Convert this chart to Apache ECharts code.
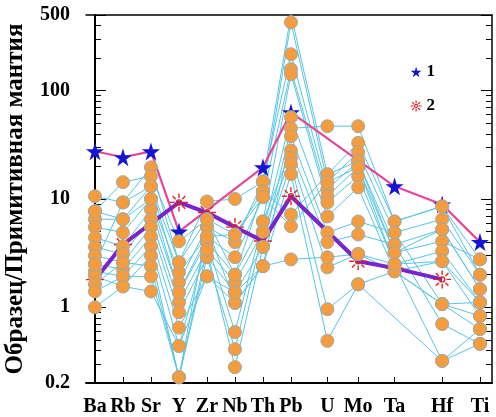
<!DOCTYPE html>
<html><head><meta charset="utf-8">
<script src="https://cdn.jsdelivr.net/npm/echarts@6/dist/echarts.min.js"></script>
<style>html,body{margin:0;padding:0;background:#fff}#c{width:496px;height:417px}</style>
</head><body><div id="c"></div>
<script>
// Elements (categories) and their position along the diagram axis
const elements   = ['Ba','Rb','Sr','Y','Zr','Nb','Th','Pb','U','Mo','Ta','Hf','Ti'];
const elementPos = [0, 1, 2, 3, 4, 5, 6, 7, 8.3, 9.4, 10.7, 12.4, 13.75];

// Y axis tick labels (log scale)
const yMajorTicks = [0.2, 1, 10, 100, 500];
const yMinorTicks = [0.3,0.4,0.5,0.6,0.7,0.8,0.9, 2,3,4,5,6,7,8,9, 20,30,40,50,60,70,80,90, 200,300,400];

// Reference patterns
const ref1 = [27.6, 24.3, 27.5, 5.0, null, null, 19.6, 63, null, null, 13.1, 8.9, 4.0];
const ref2 = [1.8, 3.8, null, 9.3, 7.5, 5.5, 4.1, 10.6, null, 2.66, 2.3, 1.81, null];

// Samples (order: Ba Rb Sr Y Zr Nb Th Pb U Mo Ta Hf Ti)
const s01 = [10.6, 9.3, 19.6, 2.6, 9.5, 10, 14.5, 507, 16.9, 33, 6.2, 8.55, 2.77];
const s02 = [7.7, 14.3, 16.2, 4.07, 6.5, 4.7, 11.8, 428, 14.3, 27, 4.9, 6.5, 2.0];
const s03 = [6.5, 6.5, 13.1, 1.7, 5.5, 4.0, 14.5, 217, 12.3, 22.3, 3.8, 5.25, 1.47];
const s04 = [5.5, 4.9, 10, 2.1, 4.5, 2.9, 10.4, 158, 10.6, 19.6, 3.2, 4.07, 2.77];
const s05 = [4.4, 3.66, 8, 1.37, 4.0, 2.0, 6.2, 142, 9.3, 16.2, 2.5, 3.3, 1.11];
const s06 = [3.6, 3.1, 6.5, 1.11, 3.4, 1.7, 5.0, 57, 6.9, 12.8, 2.15, 2.66, 0.83];
const s07 = [3.0, 2.6, 5.5, 0.9, 2.9, 1.37, 3.6, 45, 47, 47, 6.2, 8.55, 2.0];
const s08 = [2.5, 2.24, 4.5, 0.65, 1.93, 1.1, 2.4, 38, 4.9, 6.2, 4.9, 1.07, 0.63];
const s09 = [2.15, 1.93, 3.66, 0.44, 4.0, 0.59, 6.2, 28, 4.0, 4.7, 3.8, 0.70, 0.46];
const s10 = [1.93, 1.56, 3.0, 0.226, 2.9, 0.41, 5.0, 24, 2.34, 3.1, 2.5, 0.32, 0.46];
const s11 = [1.63, 2.6, 2.4, 0.226, 3.4, 0.28, 3.6, 21, 0.96, 1.63, 2.15, 1.07, 1.11];
const s12 = [1.4, 1.93, 1.93, 0.226, 5.5, 1.1, 2.4, 17, 0.49, 1.63, null, 0.32, 0.63];
const s13 = [1.0, 1.56, 1.4, 0.44, 1.93, 1.37, 2.4, 2.77, 2.9, 3.1, 2.15, 1.07, 0.83];
const s14 = [2.5, 9.3, 13.1, 2.6, 6.5, 2.0, 11.8, 7.2, 16.9, 22.3, 3.2, 5.25, 1.47];
const s15 = [7.7, 6.5, 10, 1.37, 4.5, 4.7, 10.4, 5.6, 14.3, 19.6, 2.5, 2.66, 1.11];
const samples = [s01,s02,s03,s04,s05,s06,s07,s08,s09,s10,s11,s12,s13,s14,s15];

const STAR = 'path://M50 0L61 35L98 35L68 57L79 91L50 70L21 91L32 57L2 35L39 35Z';
const SUN = 'path://M36 50A14 14 0 1 1 64 50A14 14 0 1 1 36 50Z' +
  'M50 0L50 26M50 74L50 100M0 50L26 50M74 50L100 50' +
  'M15 15L32 32M68 68L85 85M85 15L68 32M32 68L15 85';

const FONT = 'Liberation Serif';
const toPairs = arr => arr.map((v, i) => [elementPos[i], v]);

const series = [];
samples.forEach((s, k) => {
  series.push({
    name: 'sample' + (k + 1), type: 'line', data: toPairs(s), connectNulls: true,
    symbol: 'none', lineStyle: {color: '#55c6e8', width: 1}, z: 1, silent: true
  });
});
series.push({
  name: '1', type: 'line', data: toPairs(ref1), connectNulls: true,
  symbol: STAR, symbolSize: 18, showAllSymbol: true,
  itemStyle: {color: '#1414d2'}, lineStyle: {color: '#e8449c', width: 2.2}, z: 3
});
series.push({
  name: '2', type: 'line', data: toPairs(ref2), connectNulls: true,
  symbol: SUN, symbolSize: 18, showAllSymbol: true,
  itemStyle: {color: 'rgba(0,0,0,0)', borderColor: '#e02424', borderWidth: 1.4},
  lineStyle: {color: '#7a22cc', width: 4}, z: 3
});
const dots = [];
samples.forEach(s => s.forEach((v, i) => { if (v != null) dots.push([elementPos[i], v]); }));
series.push({
  name: 'dots', type: 'scatter', data: dots, symbolSize: 13,
  itemStyle: {color: '#f59c3e', borderColor: '#9eaaa8', borderWidth: 1, opacity: 1}, z: 5
});

const yBase = {type: 'log', logBase: 10, min: 0.2, max: 500, splitLine: {show: false}};
const chart = echarts.init(document.getElementById('c'));
chart.setOption({
  animation: false,
  backgroundColor: '#fff',
  grid: {left: 86, right: 4, top: 15, bottom: 34, containLabel: false, outerBoundsMode: 'none'},
  legend: {
    orient: 'vertical', left: 405, top: 58, itemWidth: 11, itemHeight: 11, itemGap: 16,
    textStyle: {fontFamily: FONT, fontWeight: 'bold', fontSize: 17, color: '#000', lineHeight: 18},
    data: [
      {name: '1', icon: STAR, itemStyle: {color: '#1414d2'}},
      {name: '2', icon: SUN, itemStyle: {color: 'rgba(0,0,0,0)', borderColor: '#e02424', borderWidth: 1.2}}
    ]
  },
  xAxis: [
    {
      type: 'value', min: -0.32, max: 14.18, position: 'bottom',
      axisLine: {lineStyle: {color: '#000', width: 2}},
      axisTick: {inside: true, length: 6, customValues: elementPos, lineStyle: {color: '#000', width: 1}},
      axisLabel: {
        customValues: elementPos, margin: 14, color: '#000',
        fontFamily: FONT, fontWeight: 'bold', fontSize: 20,
        formatter: v => { let b = 0; elementPos.forEach((p, i) => { if (Math.abs(p - v) < Math.abs(elementPos[b] - v)) b = i; }); return elements[b]; }
      },
      splitLine: {show: false}
    },
    {
      type: 'value', min: -0.32, max: 14.18, position: 'top',
      axisLine: {lineStyle: {color: '#000', width: 1.5}},
      axisTick: {show: false}, axisLabel: {show: false}, splitLine: {show: false}
    }
  ],
  yAxis: [
    Object.assign({}, yBase, {
      position: 'left',
      name: 'Образец/Примитивная мантия', nameLocation: 'middle', nameRotate: 90, nameGap: 58,
      nameTextStyle: {fontFamily: FONT, fontWeight: 'bold', fontSize: 25, color: '#000'},
      axisLine: {show: true, lineStyle: {color: '#000', width: 2}},
      axisTick: {show: true, inside: true, length: 11, customValues: yMajorTicks, lineStyle: {color: '#000', width: 1}},
      axisLabel: {
        customValues: yMajorTicks, margin: 16, color: '#000',
        fontFamily: FONT, fontWeight: 'bold', fontSize: 20,
        formatter: v => String(+(+v).toPrecision(3))
      }
    }),
    Object.assign({}, yBase, {
      position: 'left', axisLine: {show: false},
      axisTick: {show: true, inside: true, length: 6, customValues: yMinorTicks, lineStyle: {color: '#000', width: 1}},
      axisLabel: {show: false}
    }),
    Object.assign({}, yBase, {
      position: 'right', axisLine: {show: true, lineStyle: {color: '#000', width: 1.5}},
      axisTick: {show: true, inside: true, length: 11, customValues: yMajorTicks, lineStyle: {color: '#000', width: 1}},
      axisLabel: {show: false}
    }),
    Object.assign({}, yBase, {
      position: 'right', axisLine: {show: false},
      axisTick: {show: true, inside: true, length: 6, customValues: yMinorTicks, lineStyle: {color: '#000', width: 1}},
      axisLabel: {show: false}
    })
  ],
  series: series
});
</script></body></html>
